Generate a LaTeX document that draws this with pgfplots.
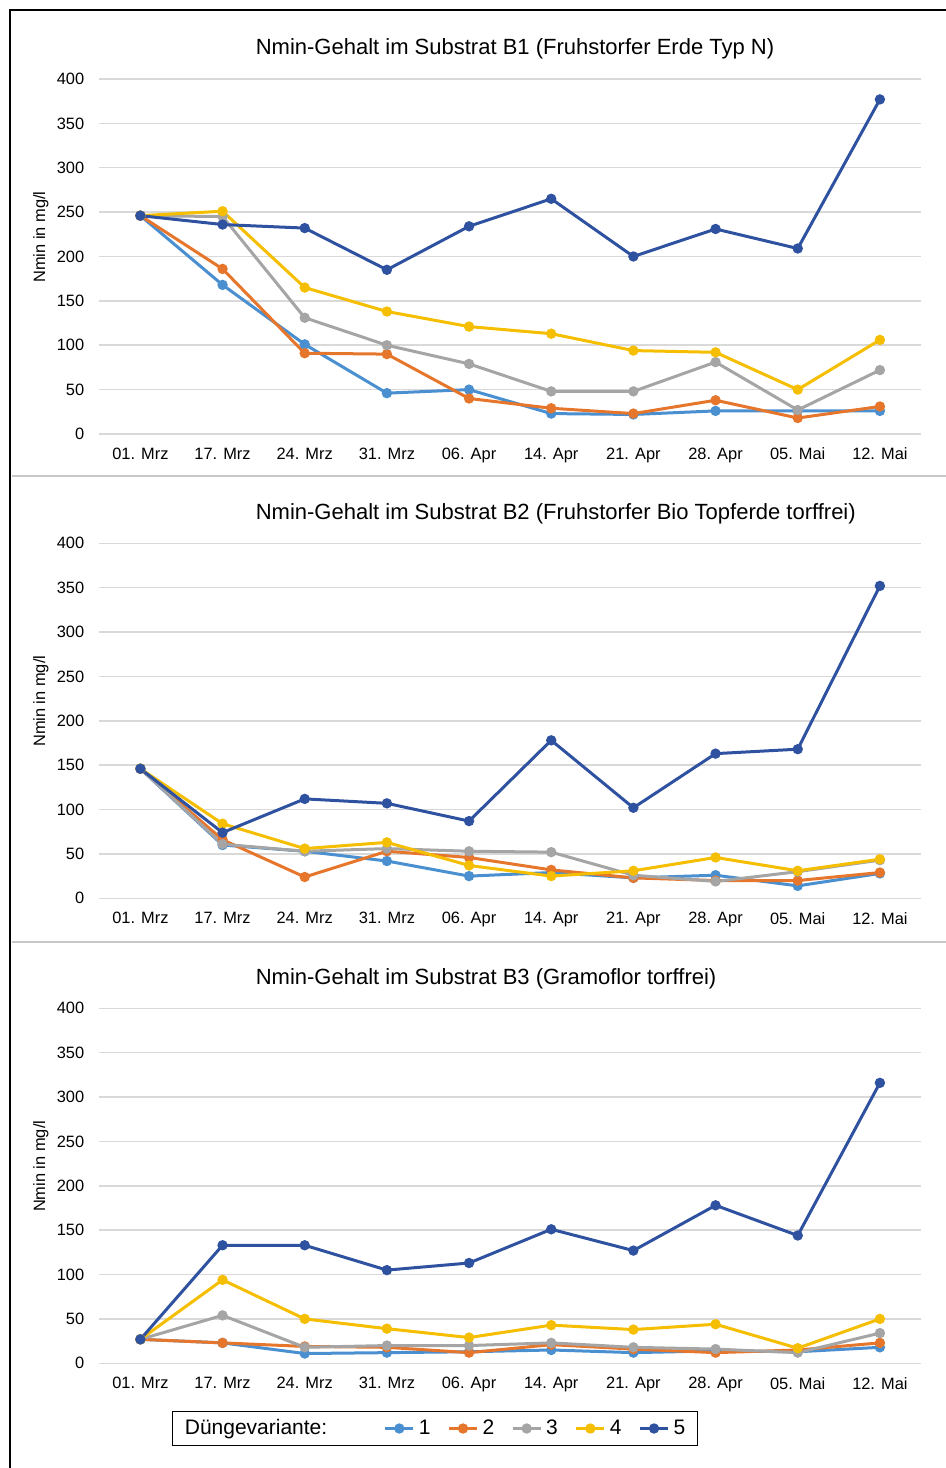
\documentclass[border=0pt]{standalone}
\usepackage{fontspec}
\setmainfont{Liberation Sans}
\usepackage{pgfplots}
\pgfplotsset{compat=1.18}
\usepackage{pgfplotstable}

\definecolor{c1}{HTML}{4A8FCF}
\definecolor{c2}{HTML}{E5762C}
\definecolor{c3}{HTML}{A5A5A5}
\definecolor{c4}{HTML}{F5BE00}
\definecolor{c5}{HTML}{2F52A0}
\definecolor{gridgray}{HTML}{D9D9D9}
\definecolor{sepgray}{HTML}{C8C8C8}

\pgfplotstableread{
x s1 s2 s3 s4 s5
0 246 246 246 246 246
1 168 186 245 251 236
2 101 91 131 165 232
3 46 90 100 138 185
4 50 40 79 121 234
5 23 29 48 113 265
6 22 23 48 94 200
7 26 38 81 92 231
8 26 18 27 50 209
9 26 31 72 106 377
}\tabA

\pgfplotstableread{
x s1 s2 s3 s4 s5
0 146 146 146 146 146
1 60 66 61 84 74
2 53 24 53 56 112
3 42 53 56 63 107
4 25 46 53 37 87
5 29 32 52 25 178
6 23 23 26 31 102
7 26 20 19 46 163
8 14 20 30 31 168
9 28 29 43 44 352
}\tabB

\pgfplotstableread{
x s1 s2 s3 s4 s5
0 27 27 27 27 27
1 23 23 54 94 133
2 11 19 18 50 133
3 12 18 20 39 105
4 13 12 20 29 113
5 15 21 23 43 151
6 12 16 18 38 127
7 14 12 16 44 178
8 13 15 12 17 144
9 18 23 34 50 316
}\tabC

\pgfplotsset{
  panel/.style={
    scale only axis, width=410.85pt, height=177.5pt,
    anchor=south west,
    xmin=-0.5, xmax=9.5, ymin=0, ymax=400,
    xtick={0,...,9},
    xticklabels={01. Mrz,17. Mrz,24. Mrz,31. Mrz,06. Apr,14. Apr,21. Apr,28. Apr,05. Mai,12. Mai},
    ytick={0,50,...,400},
    ymajorgrids,
    major grid style={draw=gridgray, line width=0.75pt},
    axis line style={draw=none},
    major tick length=0pt,
    tick label style={font=\fontsize{8.2}{10}\selectfont},
    /pgf/number format/assume math mode=true,
    yticklabel shift=4pt,
    xticklabel shift=3.5pt,
    ylabel={Nmin in mg/l},
    ylabel style={at={(axis description cs:-0.071,0.555)}, anchor=center, font=\fontsize{8.2}{10}\selectfont},
    title style={at={(axis description cs:0.19,1.05)}, anchor=west, inner xsep=0pt, font=\fontsize{11}{13}\selectfont},
    every axis plot/.append style={line width=1.5pt, mark=*, mark size=1.8pt, mark options={solid}},
  }
}

\begin{document}
\begin{tikzpicture}
\useasboundingbox (0,0) rectangle (473pt,734pt);
\draw[black, line width=1.2pt] (5pt,0) -- (5pt,729pt) -- (473pt,729pt);
\draw[sepgray, line width=0.75pt] (6pt,496pt) -- (473pt,496pt);
\draw[sepgray, line width=0.75pt] (6pt,263pt) -- (473pt,263pt);

\begin{axis}[panel, at={(49.65pt,517pt)},
  title={Nmin-Gehalt im Substrat B1 (Fruhstorfer Erde Typ N)}]
\addplot[c1] table[x=x,y=s1]{\tabA};
\addplot[c2] table[x=x,y=s2]{\tabA};
\addplot[c3] table[x=x,y=s3]{\tabA};
\addplot[c4] table[x=x,y=s4]{\tabA};
\addplot[c5] table[x=x,y=s5]{\tabA};
\end{axis}

\begin{axis}[panel, at={(49.65pt,284.85pt)},
  title={Nmin-Gehalt im Substrat B2 (Fruhstorfer Bio Topferde torffrei)}]
\addplot[c1] table[x=x,y=s1]{\tabB};
\addplot[c2] table[x=x,y=s2]{\tabB};
\addplot[c3] table[x=x,y=s3]{\tabB};
\addplot[c4] table[x=x,y=s4]{\tabB};
\addplot[c5] table[x=x,y=s5]{\tabB};
\end{axis}

\begin{axis}[panel, at={(49.65pt,52.35pt)},
  title={Nmin-Gehalt im Substrat B3 (Gramoflor torffrei)},
  legend columns=6,
  legend image code/.code={\draw[mark repeat=2,mark phase=2] plot coordinates {(0pt,0pt) (7pt,0pt) (14pt,0pt)};},
  legend style={at={(axis description cs:0.4086,-0.1837)}, anchor=center,
    draw=black, line width=0.6pt, font=\fontsize{10.5}{12}\selectfont,
    /tikz/every even column/.append style={column sep=6.5pt},
    inner xsep=4pt, inner ysep=2pt},
  legend cell align=left]
\addlegendimage{empty legend}
\addlegendentry{\makebox[91pt][l]{Düngevariante:}}
\addplot[c1] table[x=x,y=s1]{\tabC};
\addlegendentry{1}
\addplot[c2] table[x=x,y=s2]{\tabC};
\addlegendentry{2}
\addplot[c3] table[x=x,y=s3]{\tabC};
\addlegendentry{3}
\addplot[c4] table[x=x,y=s4]{\tabC};
\addlegendentry{4}
\addplot[c5] table[x=x,y=s5]{\tabC};
\addlegendentry{5}
\end{axis}
\end{tikzpicture}
\end{document}
